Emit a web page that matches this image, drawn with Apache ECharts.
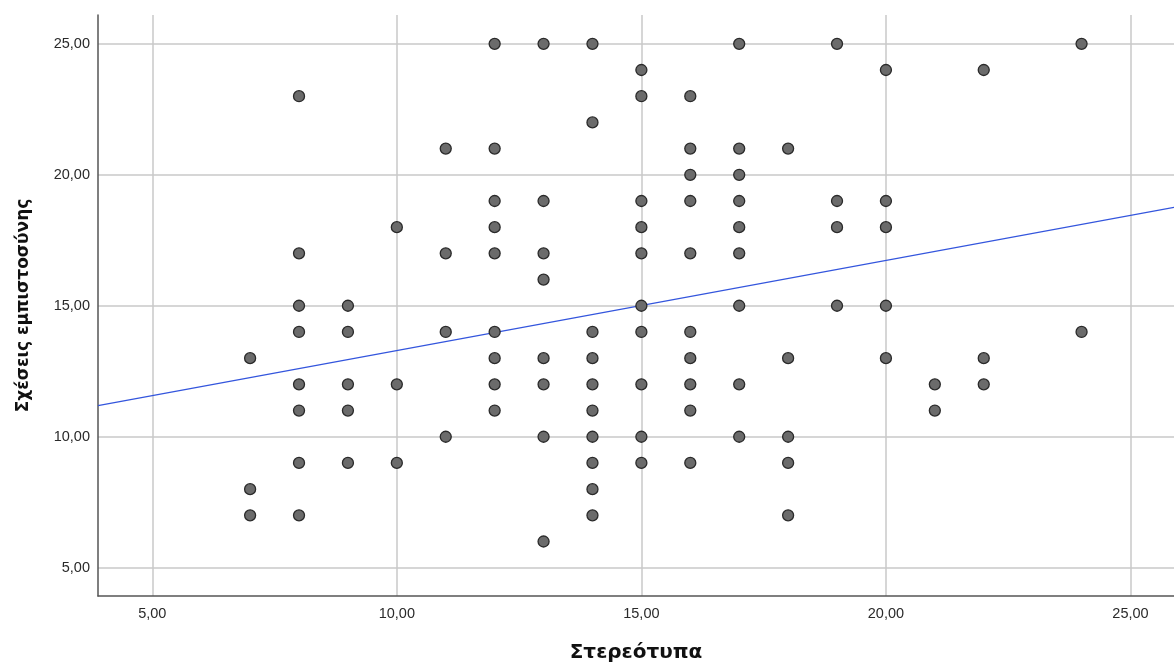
<!DOCTYPE html>
<html>
<head>
<meta charset="utf-8">
<script src="https://cdn.jsdelivr.net/npm/echarts@6/dist/echarts.min.js"></script>
<style>
html,body{margin:0;padding:0;background:#fff;}
#chart{width:1174px;height:663px;}
</style>
</head>
<body>
<div id="chart"></div>
<script>
// Data (Στερεότυπα vs Σχέσεις εμπιστοσύνης)
const stereotypes = [
  7,7,7,
  8,8,8,8,8,8,8,8,
  9,9,9,9,9,
  10,10,10,
  11,11,11,11,
  12,12,12,12,12,12,12,12,12,
  13,13,13,13,13,13,13,13,
  14,14,14,14,14,14,14,14,14,14,
  15,15,15,15,15,15,15,15,15,15,
  16,16,16,16,16,16,16,16,16,16,
  17,17,17,17,17,17,17,17,17,
  18,18,18,18,18,
  19,19,19,19,
  20,20,20,20,20,
  21,21,
  22,22,22,
  24,24
];
const trust = [
  13,8,7,
  23,17,15,14,12,11,9,7,
  15,14,12,11,9,
  18,12,9,
  21,17,14,10,
  25,21,19,18,17,14,13,12,11,
  25,19,17,16,13,12,10,6,
  25,22,14,13,12,11,10,9,8,7,
  24,23,19,18,17,15,14,12,10,9,
  23,21,20,19,17,14,13,12,11,9,
  25,21,20,19,18,17,15,12,10,
  21,13,10,9,7,
  25,19,18,15,
  24,19,18,15,13,
  12,11,
  24,13,12,
  25,14
];
const tickValues = [5, 10, 15, 20, 25];
const fitIntercept = 9.85;
const fitSlope = 0.344;
const xTitle = 'Στερεότυπα';
const yTitle = 'Σχέσεις εμπιστοσύνης';

const xMin = 3.89, xMax = 25.89, yMin = 3.92, yMax = 26.1;

const points = stereotypes.map((x, i) => [x, trust[i]]);
const fitLine = [[xMin, fitIntercept + fitSlope * xMin], [xMax, fitIntercept + fitSlope * xMax]];

const fmt = v => v.toFixed(2).replace('.', ',');

const chart = echarts.init(document.getElementById('chart'), null, {renderer: 'canvas'});
chart.setOption({
  animation: false,
  backgroundColor: '#ffffff',
  grid: {left: 98, right: 0, top: 15, bottom: 67, containLabel: false, outerBoundsMode: 'none'},
  xAxis: {
    type: 'value', min: xMin, max: xMax,
    name: xTitle, nameLocation: 'middle', nameGap: 47,
    nameTextStyle: {fontFamily: 'DejaVu Sans', fontWeight: 'bold', fontSize: 20, color: '#111'},
    axisLine: {show: true, onZero: false, lineStyle: {color: '#555', width: 1.5}},
    axisTick: {show: false, customValues: tickValues},
    axisLabel: {customValues: tickValues, formatter: fmt, fontFamily: 'Liberation Sans', fontSize: 14.5, color: '#2a2a2a', margin: 10},
    splitLine: {show: true, lineStyle: {color: '#c8c8c8', width: 1.5}}
  },
  yAxis: {
    type: 'value', min: yMin, max: yMax,
    name: yTitle, nameLocation: 'middle', nameGap: 66, nameRotate: 90,
    nameTextStyle: {fontFamily: 'DejaVu Sans', fontWeight: 'bold', fontSize: 17, color: '#111'},
    axisLine: {show: true, onZero: false, lineStyle: {color: '#555', width: 1.5}},
    axisTick: {show: false, customValues: tickValues},
    axisLabel: {customValues: tickValues, formatter: fmt, fontFamily: 'Liberation Sans', fontSize: 14.5, color: '#2a2a2a', margin: 8},
    splitLine: {show: true, lineStyle: {color: '#c8c8c8', width: 1.5}}
  },
  series: [
    {
      type: 'line', data: fitLine, symbol: 'none', silent: true, z: 1,
      lineStyle: {color: '#3355dd', width: 1.2}
    },
    {
      type: 'scatter', data: points, symbol: 'circle', symbolSize: 11, z: 2,
      itemStyle: {color: '#6b6b6b', borderColor: '#2a2a2a', borderWidth: 1.3, opacity: 1}
    }
  ]
});
</script>
</body>
</html>
